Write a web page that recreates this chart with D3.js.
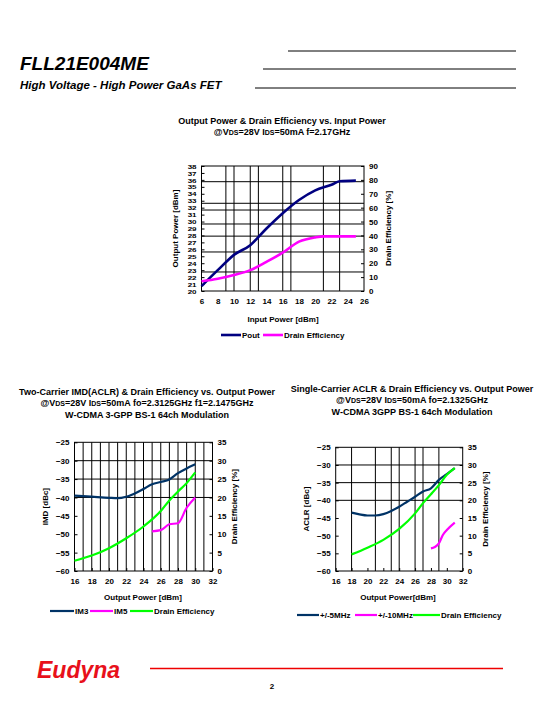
<!DOCTYPE html>
<html><head><meta charset="utf-8">
<script src="https://cdn.jsdelivr.net/npm/d3@7"></script>
<style>
body{margin:0;background:#fff;}
svg{display:block;font-family:"Liberation Sans",Arial,sans-serif;}
text{fill:#000;}
</style></head>
<body>
<svg id="c" width="540" height="720"></svg>
<script>
// ---------- Data ----------
// Chart 1: Output Power & Drain Efficiency vs Input Power
const pinX = [6, 8, 10, 12, 14, 16, 18, 20, 22, 23, 25];
const poutY = [20.7, 23.0, 25.2, 26.6, 29.0, 31.2, 33.1, 34.5, 35.3, 35.8, 35.9];
const deX1 = [6, 8, 10, 12, 14, 16, 18, 20, 21, 23, 25];
const deY1 = [7.0, 8.8, 11.5, 15.0, 21.0, 27.6, 35.5, 38.6, 39.3, 39.3, 39.3];
const xTicks1 = [6, 8, 10, 12, 14, 16, 18, 20, 22, 24, 26];
const yTicks1L = d3.range(20, 39, 1);
const yTicks1R = [0, 10, 20, 30, 40, 50, 60, 70, 80, 90];
const gridX1 = [9, 10, 12, 13, 16, 17, 21, 23];
const gridY1 = [35.74, 32.63, 31.66, 29.65, 27.9, 25.62, 22.74];

// Chart 2: Two-carrier IMD
const imX = [16, 18, 20, 21, 22, 23, 24, 25, 26, 27, 28, 29, 30];
const im3Y = [-39.5, -39.8, -40.1, -40.2, -39.8, -38.9, -37.7, -36.4, -35.8, -35.1, -33.4, -32.1, -31.0];
const im5X = [25, 26, 27, 28, 29, 30];
const im5Y = [-49.2, -48.9, -47.3, -47.0, -42.8, -40.0];
const deX2 = [16, 18, 20, 22, 24, 26, 27, 28, 29, 30];
const deY2 = [2.8, 4.2, 6.2, 8.9, 12.1, 16.3, 19.2, 21.6, 23.9, 26.8];
const xTicks2 = [16, 18, 20, 22, 24, 26, 28, 30, 32];
const yTicks2L = [-25, -30, -35, -40, -45, -50, -55, -60];
const yTicks2R = [0, 5, 10, 15, 20, 25, 30, 35];
const gridX2 = d3.range(17, 32, 1);
const gridY2 = [-30, -35, -40];

// Chart 3: Single-carrier ACLR
const aclrX = [18, 19, 20, 21, 22, 23, 24, 25, 26, 27, 28, 29, 30, 31];
const aclr5Y = [-43.5, -44.0, -44.3, -44.3, -43.9, -43.0, -41.8, -40.4, -39.0, -37.5, -36.6, -34.2, -32.6, -30.9];
const aclr10X = [28, 28.5, 29, 29.5, 30, 31];
const aclr10Y = [-53.6, -53.2, -52.2, -49.8, -48.4, -46.3];
const deX3 = [18, 20, 22, 24, 26, 27, 28, 29, 30, 31];
const deY3 = [4.7, 6.6, 8.8, 11.9, 16.3, 19.2, 21.7, 24.3, 27.2, 29.1];
const gridX3 = [18, 21, 23, 24, 26, 27, 29];
const gridY3 = [-30, -35, -40];

const svg = d3.select("#c");
const F = "Liberation Sans, Arial, sans-serif";

// ---------- Header ----------
svg.append("text").attr("x", 20).attr("y", 70).attr("font-size", 19).attr("font-weight", "bold")
  .attr("font-style", "italic").text("FLL21E004ME");
svg.append("text").attr("x", 20).attr("y", 89).attr("font-size", 11.5).attr("font-weight", "bold")
  .attr("font-style", "italic").text("High Voltage - High Power GaAs FET");
[[288, 51], [263, 69], [255, 88]].forEach(([x0, y]) => {
  svg.append("line").attr("x1", x0).attr("x2", 516).attr("y1", y).attr("y2", y)
    .attr("stroke", "#000").attr("stroke-width", 1);
});

// ---------- helpers ----------
function subText(sel, parts, size) {
  parts.forEach(p => {
    const t = sel.append("tspan").text(p.t);
    if (p.s) t.attr("font-size", size * 0.78);
  });
}
function titleBlock(cx, y0, lines, size) {
  lines.forEach((ln, i) => {
    const t = svg.append("text").attr("x", cx).attr("y", y0 + i * 11.3).attr("text-anchor", "middle")
      .attr("font-size", size).attr("font-weight", "bold");
    if (typeof ln === "string") t.text(ln); else subText(t, ln, size);
  });
}

function chart(cfg) {
  const g = svg.append("g");
  const x = d3.scaleLinear().domain(cfg.xDom).range([cfg.l, cfg.r]);
  const yL = d3.scaleLinear().domain(cfg.yLDom).range([cfg.b, cfg.t]);
  const yR = d3.scaleLinear().domain(cfg.yRDom).range([cfg.b, cfg.t]);
  cfg.gridX.forEach(v => g.append("line").attr("x1", x(v)).attr("x2", x(v)).attr("y1", cfg.t).attr("y2", cfg.b)
    .attr("stroke", "#000").attr("stroke-width", 1));
  cfg.gridY.forEach(v => g.append("line").attr("x1", cfg.l).attr("x2", cfg.r).attr("y1", yL(v)).attr("y2", yL(v))
    .attr("stroke", "#000").attr("stroke-width", 1));
  g.append("rect").attr("x", cfg.l).attr("y", cfg.t).attr("width", cfg.r - cfg.l).attr("height", cfg.b - cfg.t)
    .attr("fill", "none").attr("stroke", "#000").attr("stroke-width", 1);
  const fs = cfg.fs;
  const ax = g.append("g").attr("transform", `translate(0,${cfg.b})`)
    .call(d3.axisBottom(x).tickValues(cfg.xTicks).tickSize(cfg.xTickIn ? -3 : 0).tickPadding(cfg.xPad).tickFormat(d3.format("d")));
  const al = g.append("g").attr("transform", `translate(${cfg.l},0)`)
    .call(d3.axisLeft(yL).tickValues(cfg.yLTicks).tickSize(-3).tickPadding(5).tickFormat(d3.format("d")));
  const ar = g.append("g").attr("transform", `translate(${cfg.r},0)`)
    .call(d3.axisRight(yR).tickValues(cfg.yRTicks).tickSize(-3).tickPadding(5).tickFormat(d3.format("d")));
  [ax, al, ar].forEach(a => {
    a.select(".domain").remove();
    a.selectAll("line").attr("stroke", "#000");
    a.selectAll("text").attr("font-size", fs).attr("font-weight", "bold").attr("font-family", F).attr("fill", "#000");
  });
  if (cfg.lTickSqueeze) al.selectAll("text").attr("dy", "0.36em").attr("transform", `scale(1,${cfg.lTickSqueeze})`);
  cfg.series.forEach(s => {
    const ys = s.axis === "L" ? yL : yR;
    g.append("path").datum(s.xs.map((v, i) => [v, s.ys[i]]))
      .attr("d", d3.line().x(d => x(d[0])).y(d => ys(d[1])).curve(d3.curveMonotoneX))
      .attr("fill", "none").attr("stroke", s.color).attr("stroke-width", cfg.lw).attr("stroke-linejoin", "round");
  });
  const midY = (cfg.t + cfg.b) / 2;
  g.append("text").attr("transform", `translate(${cfg.lTitleX},${midY}) rotate(-90)`).attr("text-anchor", "middle")
    .attr("font-size", fs).attr("font-weight", "bold").text(cfg.lTitle);
  g.append("text").attr("transform", `translate(${cfg.rTitleX},${midY}) rotate(-90)`).attr("text-anchor", "middle")
    .attr("font-size", fs).attr("font-weight", "bold").text(cfg.rTitle);
  g.append("text").attr("x", cfg.xTitleX).attr("y", cfg.xTitleY).attr("text-anchor", "middle")
    .attr("font-size", fs).attr("font-weight", "bold").text(cfg.xTitle);
  cfg.legend.forEach(it => {
    g.append("line").attr("x1", it.x).attr("x2", it.x + it.w).attr("y1", cfg.legY).attr("y2", cfg.legY)
      .attr("stroke", it.color).attr("stroke-width", cfg.lw);
    g.append("text").attr("x", it.x + it.w + 1).attr("y", cfg.legY + 3).attr("font-size", fs)
      .attr("font-weight", "bold").text(it.label);
  });
}

// ---------- Chart 1 ----------
titleBlock(282, 124, ["Output Power & Drain Efficiency vs. Input Power",
  [{t: "@V"}, {t: "DS", s: 1}, {t: "=28V I"}, {t: "DS", s: 1}, {t: "=50mA f=2.17GHz"}]], 9);
chart({
  l: 201.5, r: 364, t: 166, b: 291, xDom: [6, 26], yLDom: [20, 38], yRDom: [0, 90],
  xTicks: xTicks1, yLTicks: yTicks1L, yRTicks: yTicks1R, gridX: gridX1, gridY: gridY1,
  fs: 8, lTickSqueeze: 0.74, lw: 2.6, xPad: 7, xTickIn: false,
  series: [
    {xs: pinX, ys: poutY, axis: "L", color: "#000080"},
    {xs: deX1, ys: deY1, axis: "R", color: "#ff00ff"}
  ],
  lTitle: "Output Power [dBm]", lTitleX: 178, rTitle: "Drain Efficiency [%]", rTitleX: 391,
  xTitle: "Input Power [dBm]", xTitleX: 283, xTitleY: 322,
  legY: 335,
  legend: [{x: 221, w: 20, color: "#000080", label: "Pout"}, {x: 263, w: 20, color: "#ff00ff", label: "Drain Efficiency"}]
});

// ---------- Chart 2 ----------
titleBlock(147, 395, ["Two-Carrier IMD(ACLR) & Drain Efficiency vs. Output Power",
  [{t: "@V"}, {t: "DS", s: 1}, {t: "=28V I"}, {t: "DS", s: 1}, {t: "=50mA fo=2.3125GHz f1=2.1475GHz"}],
  "W-CDMA 3-GPP BS-1 64ch Modulation"], 9);
chart({
  l: 74.5, r: 212.5, t: 442.3, b: 571, xDom: [16, 32], yLDom: [-60, -25], yRDom: [0, 35],
  xTicks: xTicks2, yLTicks: yTicks2L, yRTicks: yTicks2R, gridX: gridX2, gridY: gridY2,
  fs: 8, lw: 2.2, xPad: 7, xTickIn: true,
  series: [
    {xs: imX, ys: im3Y, axis: "L", color: "#003366"},
    {xs: im5X, ys: im5Y, axis: "L", color: "#ff00ff"},
    {xs: deX2, ys: deY2, axis: "R", color: "#00ff00"}
  ],
  lTitle: "IMD [dBc]", lTitleX: 48, rTitle: "Drain Efficiency [%]", rTitleX: 237,
  xTitle: "Output Power [dBm]", xTitleX: 143, xTitleY: 600,
  legY: 611,
  legend: [{x: 50, w: 24, color: "#003366", label: "IM3"}, {x: 90, w: 23, color: "#ff00ff", label: "IM5"},
    {x: 130, w: 23, color: "#00ff00", label: "Drain Efficiency"}]
});

// ---------- Chart 3 ----------
titleBlock(412, 392, ["Single-Carrier ACLR & Drain Efficiency vs. Output Power",
  [{t: "@V"}, {t: "DS", s: 1}, {t: "=28V I"}, {t: "DS", s: 1}, {t: "=50mA fo=2.1325GHz"}],
  "W-CDMA 3GPP BS-1 64ch Modulation"], 9);
chart({
  l: 335.7, r: 462.7, t: 447.3, b: 571, xDom: [16, 32], yLDom: [-60, -25], yRDom: [0, 35],
  xTicks: xTicks2, yLTicks: yTicks2L, yRTicks: yTicks2R, gridX: gridX3, gridY: gridY3,
  fs: 8, lw: 2.2, xPad: 7, xTickIn: true,
  series: [
    {xs: aclrX, ys: aclr5Y, axis: "L", color: "#003366"},
    {xs: aclr10X, ys: aclr10Y, axis: "L", color: "#ff00ff"},
    {xs: deX3, ys: deY3, axis: "R", color: "#00ff00"}
  ],
  lTitle: "ACLR [dBc]", lTitleX: 309, rTitle: "Drain Efficiency [%]", rTitleX: 488,
  xTitle: "Output Power[dBm]", xTitleX: 398, xTitleY: 600,
  legY: 615,
  legend: [{x: 297, w: 22, color: "#003366", label: "+/-5MHz"}, {x: 355, w: 22, color: "#ff00ff", label: "+/-10MHz"},
    {x: 413, w: 27, color: "#00ff00", label: "Drain Efficiency"}]
});

// ---------- Footer ----------
svg.append("text").attr("x", 37).attr("y", 678).attr("font-size", 23).attr("font-weight", "bold")
  .attr("font-style", "italic").style("fill", "#e8101a").text("Eudyna");
svg.append("line").attr("x1", 150).attr("x2", 503).attr("y1", 668.5).attr("y2", 668.5)
  .attr("stroke", "#ee0000").attr("stroke-width", 1.6);
svg.append("text").attr("x", 272).attr("y", 689).attr("text-anchor", "middle").attr("font-size", 8)
  .attr("font-weight", "bold").text("2");
</script>
</body></html>
